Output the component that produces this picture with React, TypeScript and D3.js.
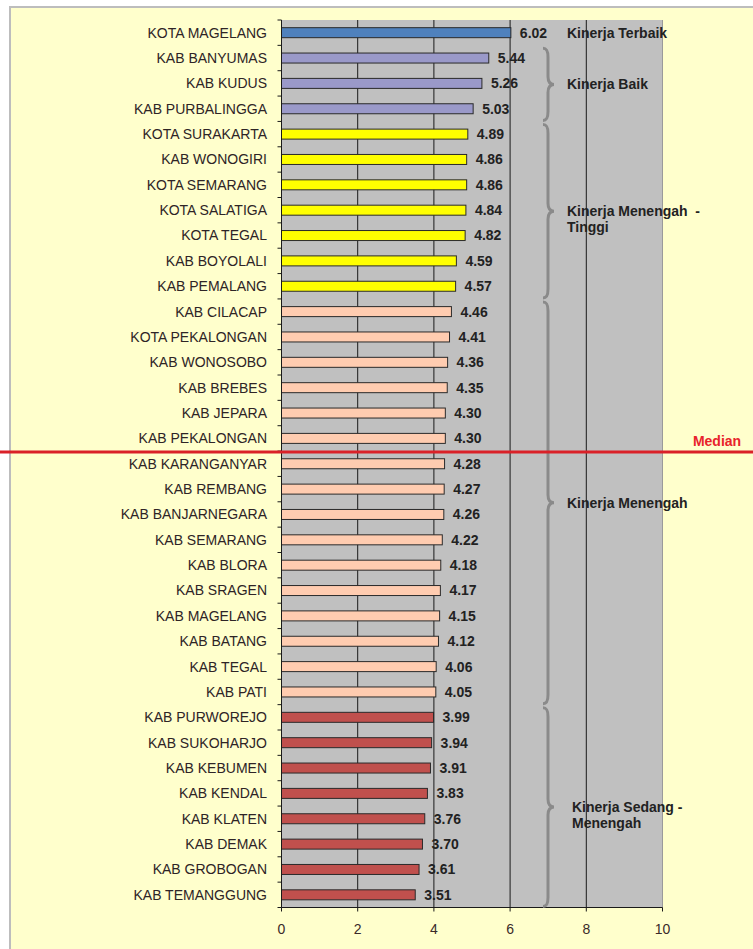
import React from 'react';
import * as d3 from 'd3';

const regions = [
  'KOTA MAGELANG', 'KAB BANYUMAS', 'KAB KUDUS', 'KAB PURBALINGGA', 'KOTA SURAKARTA',
  'KAB WONOGIRI', 'KOTA SEMARANG', 'KOTA SALATIGA', 'KOTA TEGAL', 'KAB BOYOLALI',
  'KAB PEMALANG', 'KAB CILACAP', 'KOTA PEKALONGAN', 'KAB WONOSOBO', 'KAB BREBES',
  'KAB JEPARA', 'KAB PEKALONGAN', 'KAB KARANGANYAR', 'KAB REMBANG', 'KAB BANJARNEGARA',
  'KAB SEMARANG', 'KAB BLORA', 'KAB SRAGEN', 'KAB MAGELANG', 'KAB BATANG',
  'KAB TEGAL', 'KAB PATI', 'KAB PURWOREJO', 'KAB SUKOHARJO', 'KAB KEBUMEN',
  'KAB KENDAL', 'KAB KLATEN', 'KAB DEMAK', 'KAB GROBOGAN', 'KAB TEMANGGUNG',
];

const scores = [
  6.02, 5.44, 5.26, 5.03, 4.89,
  4.86, 4.86, 4.84, 4.82, 4.59,
  4.57, 4.46, 4.41, 4.36, 4.35,
  4.30, 4.30, 4.28, 4.27, 4.26,
  4.22, 4.18, 4.17, 4.15, 4.12,
  4.06, 4.05, 3.99, 3.94, 3.91,
  3.83, 3.76, 3.70, 3.61, 3.51,
];

// group index per region (0 terbaik, 1 baik, 2 menengah-tinggi, 3 menengah, 4 sedang-menengah)
const groupOf = [
  0, 1, 1, 1, 2,
  2, 2, 2, 2, 2,
  2, 3, 3, 3, 3,
  3, 3, 3, 3, 3,
  3, 3, 3, 3, 3,
  3, 3, 4, 4, 4,
  4, 4, 4, 4, 4,
];

const groupColors = ['#4F81BD', '#9A99C9', '#FFFF00', '#FFCCB0', '#C0504D'];

const groupLabels = [
  ['Kinerja Terbaik'],
  ['Kinerja Baik'],
  ['Kinerja Menengah  -', 'Tinggi'],
  ['Kinerja Menengah'],
  ['Kinerja Sedang -', 'Menengah'],
];

const xTicks = [0, 2, 4, 6, 8, 10];
const medianAfter = 'KAB PEKALONGAN';

const W = 753;
const H = 949;
const font = 'Arial, "Liberation Sans", sans-serif';

export default function App() {
  const x = d3.scaleLinear().domain([0, 10]).range([281.5, 662.5]);
  const y = d3.scaleBand<string>().domain(regions).range([20, 907.5]);
  const bw = y.bandwidth();
  const barH = 10;
  const left = x(0);
  const right = x(10);
  const top = 20;
  const bottom = 907.5;

  const medianY = (y(medianAfter) as number) + bw + 1;

  // brace for each group except the top one
  const braceX = 548;
  const braces = [1, 2, 3, 4].map((g) => {
    const idx = groupOf.map((v, i) => (v === g ? i : -1)).filter((i) => i >= 0);
    const y0 = (y(regions[idx[0]]) as number) + 3;
    const y1 = (y(regions[idx[idx.length - 1]]) as number) + bw - 1;
    const ym = (y0 + y1) / 2;
    const p = d3.path();
    p.moveTo(braceX - 5, y0);
    p.bezierCurveTo(braceX - 1, y0, braceX, y0 + 3, braceX, y0 + 9);
    p.lineTo(braceX, ym - 8);
    p.bezierCurveTo(braceX, ym - 3, braceX + 2, ym, braceX + 6, ym);
    p.bezierCurveTo(braceX + 2, ym, braceX, ym + 3, braceX, ym + 8);
    p.lineTo(braceX, y1 - 9);
    p.bezierCurveTo(braceX, y1 - 3, braceX - 1, y1, braceX - 5, y1);
    return { g, d: p.toString(), ym };
  });

  return (
    <svg
      width={W}
      height={H}
      style={{ position: 'absolute', left: 0, top: 0, fontFamily: font }}
    >
      <rect x={0} y={0} width={W} height={H} fill="#ffffff" />
      <rect x={10} y={7} width={W} height={H} fill="#FFFFCC" stroke="#bdbdbd" strokeWidth={2} />

      {/* plot area */}
      <rect x={left} y={top} width={right - left} height={bottom - top} fill="#C0C0C0" />
      {xTicks.slice(1).map((t) => (
        <line
          key={'g' + t}
          x1={x(t)}
          x2={x(t)}
          y1={top}
          y2={bottom}
          stroke={t === 10 ? '#9a9a9a' : '#1a1a1a'}
          strokeWidth={1}
        />
      ))}

      {/* bars */}
      {regions.map((r, i) => (
        <rect
          key={r}
          x={left}
          y={(y(r) as number) + bw / 2 - barH / 2}
          width={x(scores[i]) - left}
          height={barH}
          fill={groupColors[groupOf[i]]}
          stroke="#2a2a2a"
          strokeWidth={1}
        />
      ))}

      {/* value labels */}
      {regions.map((r, i) => (
        <text
          key={'v' + r}
          x={x(scores[i]) + 9}
          y={(y(r) as number) + bw / 2}
          dy="0.35em"
          fontSize={14}
          fontWeight="bold"
          fill="#222"
        >
          {scores[i].toFixed(2)}
        </text>
      ))}

      {/* axes */}
      <line x1={left} x2={left} y1={top} y2={bottom} stroke="#1a1a1a" />
      <line x1={left} x2={right} y1={bottom} y2={bottom} stroke="#1a1a1a" />
      {d3.range(regions.length + 1).map((i) => {
        const ty = top + i * bw;
        return <line key={'yt' + i} x1={left - 4} x2={left} y1={ty} y2={ty} stroke="#1a1a1a" />;
      })}
      {xTicks.map((t) => (
        <g key={'xt' + t}>
          <line x1={x(t)} x2={x(t)} y1={bottom} y2={bottom + 4} stroke="#1a1a1a" />
          <text x={x(t)} y={929} dy="0.35em" textAnchor="middle" fontSize={14} fill="#3a2a2a">
            {t}
          </text>
        </g>
      ))}
      {regions.map((r) => (
        <text
          key={'c' + r}
          x={267}
          y={(y(r) as number) + bw / 2}
          dy="0.35em"
          textAnchor="end"
          fontSize={14}
          fill="#2e2426"
        >
          {r}
        </text>
      ))}

      {/* group braces and labels */}
      {braces.map((b) => (
        <path key={'b' + b.g} d={b.d} fill="none" stroke="#8a8a8a" strokeWidth={3} />
      ))}
      <text
        x={567}
        y={(y(regions[0]) as number) + bw / 2}
        dy="0.35em"
        fontSize={14}
        fontWeight="bold"
        fill="#222"
      >
        {groupLabels[0][0]}
      </text>
      {braces.map((b) => {
        const lines = groupLabels[b.g];
        const tx = b.g === 4 ? 572 : 567;
        const startY = b.ym - ((lines.length - 1) * 16) / 2 + (lines.length > 1 ? 8 : 0);
        return (
          <text key={'l' + b.g} x={tx} fontSize={14} fontWeight="bold" fill="#222">
            {lines.map((s, k) => (
              <tspan key={k} x={tx} y={startY + k * 16} dy="0.35em" style={{ whiteSpace: 'pre' }}>
                {s}
              </tspan>
            ))}
          </text>
        );
      })}

      {/* median */}
      <line x1={0} x2={W} y1={medianY} y2={medianY} stroke="#DA2128" strokeWidth={3} />
      <text x={717} y={441} dy="0.35em" textAnchor="middle" fontSize={14} fontWeight="bold" fill="#E8232B">
        Median
      </text>
    </svg>
  );
}
